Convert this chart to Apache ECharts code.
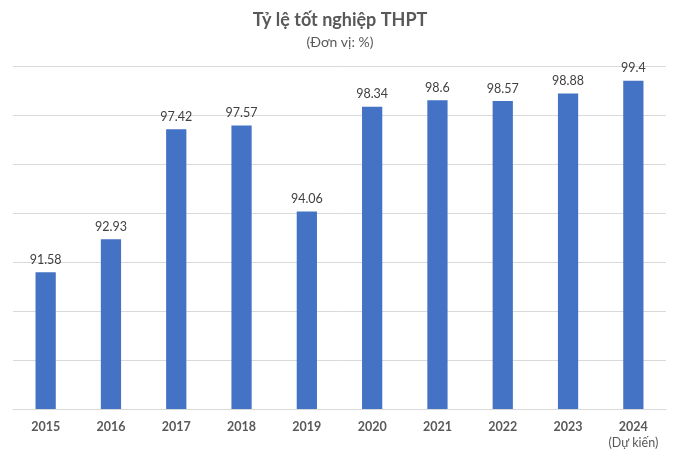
<!DOCTYPE html>
<html><head><meta charset="utf-8">
<script src="https://cdn.jsdelivr.net/npm/echarts@6/dist/echarts.min.js"></script>
<style>html,body{margin:0;padding:0;background:#fff}#c{width:680px;height:458px}</style>
</head><body><div id="c"></div>
<script>
const categories = ['2015','2016','2017','2018','2019','2020','2021','2022','2023','2024\n(Dự kiến)'];
const values = [91.58, 92.93, 97.42, 97.57, 94.06, 98.34, 98.6, 98.57, 98.88, 99.4];
const titleText = 'Tỷ lệ tốt nghiệp THPT';
const subtitleText = '(Đơn vị: %)';
const FONT = 'Lato, "Open Sans", sans-serif';
const chart = echarts.init(document.getElementById('c'), null, {renderer:'canvas'});
chart.setOption({
  animation:false,
  backgroundColor:'#fff',
  title:{
    text:titleText, subtext:subtitleText, left:'center', top:6, itemGap:6,
    textStyle:{fontFamily:FONT, fontSize:18, fontWeight:'bold', color:'#595959'},
    subtextStyle:{fontFamily:FONT, fontSize:14, color:'#595959'}
  },
  grid:{left:13, right:14, top:66, bottom:49, containLabel:false},
  xAxis:{
    type:'category', data:categories,
    axisLine:{lineStyle:{color:'#d9d9d9', width:1}},
    axisTick:{show:false},
    axisLabel:{
      interval:0, margin:10,
      formatter: function(v){
        const parts = v.split('\n');
        return parts.map((p,i)=> i===0 ? '{b|'+p+'}' : '{n|'+p+'}').join('\n');
      },
      rich:{
        b:{fontFamily:FONT, fontSize:12.5, fontWeight:'bold', color:'#595959', lineHeight:16},
        n:{fontFamily:FONT, fontSize:12.5, fontWeight:'normal', color:'#595959', lineHeight:16}
      }
    }
  },
  yAxis:{
    type:'value', min:86, max:100, interval:2,
    axisLabel:{show:false}, axisLine:{show:false}, axisTick:{show:false},
    splitLine:{lineStyle:{color:'#d9d9d9', width:1}}
  },
  series:[{
    type:'bar', data:values, barWidth:'31%',
    itemStyle:{color:'#4472C4'},
    label:{show:true, position:'top', distance:6, fontFamily:FONT, fontSize:12.5, color:'#404040'}
  }]
});
</script></body></html>
